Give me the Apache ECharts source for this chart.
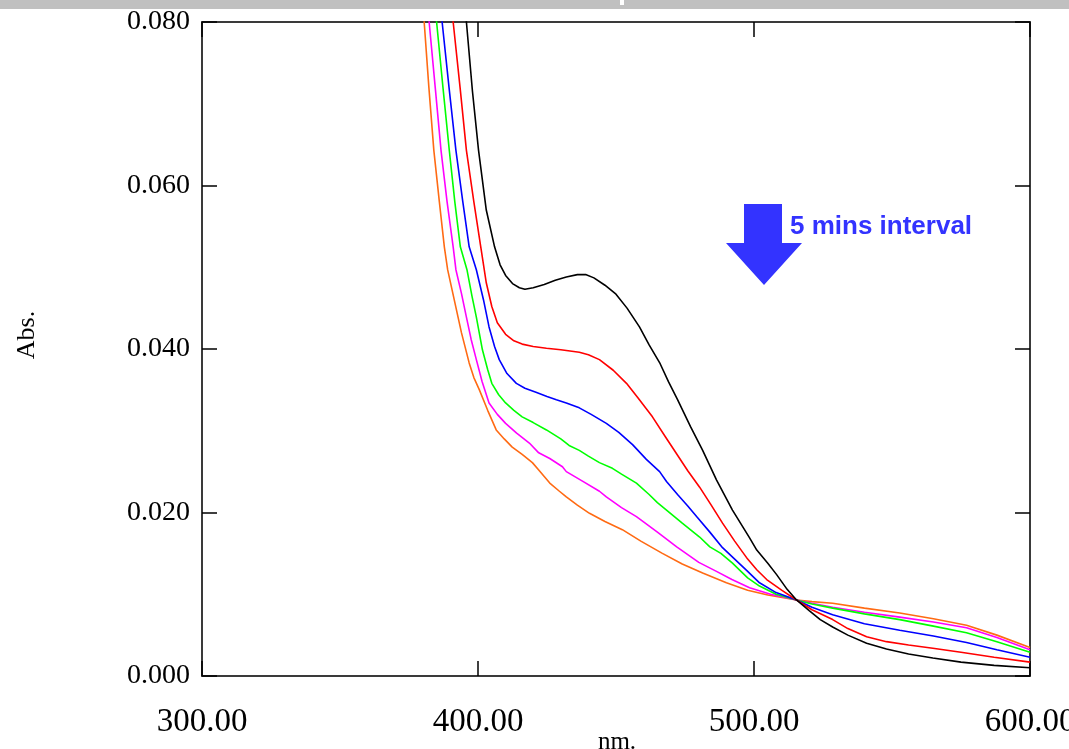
<!DOCTYPE html>
<html>
<head>
<meta charset="utf-8">
<script src="https://cdn.jsdelivr.net/npm/echarts@6/dist/echarts.min.js"></script>
<style>html,body{margin:0;padding:0;background:#fff;overflow:hidden}#c{width:1069px;height:749px}</style>
</head>
<body>
<div id="c"></div>
<script>
const xTicks = [300, 400, 500, 600];
const yTicks = [0, 0.02, 0.04, 0.06, 0.08];
const seriesNames = ['t0', 't5', 't10', 't15', 't20', 't25'];
const annotation = '5 mins interval';
const xName = 'nm.';
const yName = 'Abs.';

const black = [[394,0.0865],[395.8,0.080],[398,0.0715],[400.2,0.0643],[403,0.057],[406,0.0525],[408,0.0503],[410,0.0490],[412.5,0.0480],[415,0.0475],[417,0.0473],[420,0.0475],[424,0.0479],[428,0.0484],[432,0.0488],[436,0.0491],[439,0.0491],[442,0.0487],[446,0.0478],[450,0.0467],[454,0.0450],[458.5,0.0427],[462,0.0405],[466,0.0382],[469,0.0360],[472.3,0.0338],[477,0.0305],[481.4,0.0276],[486.4,0.0240],[492.2,0.0203],[498.4,0.0169],[501,0.0154],[505,0.0138],[508.2,0.0124],[512,0.0106],[515.4,0.0093],[520,0.0080],[524,0.0069],[528.5,0.0060],[534,0.0050],[540.8,0.0040],[548,0.0033],[556,0.0027],[564.8,0.0022],[575,0.0017],[587,0.0013],[600,0.0010]];
const red = [[389,0.0875],[391,0.080],[393.5,0.072],[395.8,0.0643],[398.5,0.058],[401,0.0525],[403,0.0481],[405,0.0452],[407,0.0432],[410,0.0418],[413,0.0410],[416,0.0406],[420,0.0403],[424.8,0.0401],[430,0.0399],[436.7,0.0396],[440,0.0393],[444,0.0387],[449,0.0374],[453.8,0.0358],[458,0.0340],[463.2,0.0317],[468,0.0292],[472.3,0.0270],[476,0.0251],[480.3,0.0231],[484.5,0.0209],[488.6,0.0187],[493,0.0165],[497.7,0.0143],[501,0.0130],[504.6,0.0118],[510,0.0105],[515.4,0.0093],[521,0.0081],[528.5,0.0069],[534,0.0058],[540.8,0.0048],[548,0.0042],[556,0.0038],[564.8,0.0034],[575,0.0029],[587,0.0023],[600,0.0017]];
const blue = [[385,0.0875],[387,0.080],[389.5,0.072],[392,0.0643],[394.5,0.058],[396.8,0.0525],[399.4,0.0497],[402,0.046],[404,0.0427],[406,0.0403],[407.7,0.0387],[410.5,0.0370],[413.9,0.0358],[417,0.0352],[421,0.0347],[425,0.0342],[428.4,0.0338],[432,0.0334],[436.7,0.0328],[441,0.0320],[446.5,0.0309],[451,0.0298],[456,0.0283],[461,0.0265],[465.8,0.0250],[468.3,0.0238],[472.3,0.0222],[476,0.0208],[479.2,0.0195],[484,0.0176],[488.6,0.0157],[493,0.0143],[497.7,0.0128],[502,0.0114],[508,0.0102],[515.4,0.0093],[521,0.0084],[528.5,0.0075],[540,0.0064],[552.8,0.0056],[565,0.0049],[577,0.0041],[588,0.0032],[600,0.0023]];
const green = [[383,0.0875],[385,0.080],[387.3,0.072],[389.6,0.0643],[391.6,0.058],[393.6,0.0525],[396,0.0497],[397.8,0.0465],[399.4,0.0439],[401.6,0.0399],[403.5,0.0375],[405,0.0358],[407.5,0.0344],[410,0.0334],[413,0.0325],[416,0.0317],[420,0.0310],[424.8,0.0301],[430,0.0290],[433,0.0282],[436.7,0.0276],[440,0.0269],[444,0.0261],[448.7,0.0254],[452,0.0247],[457.4,0.0236],[462,0.0222],[465,0.0212],[468.3,0.0203],[474,0.0187],[480.3,0.0170],[484,0.0158],[488,0.0150],[492.2,0.0138],[497.7,0.0120],[502,0.0110],[508,0.0100],[515.4,0.0093],[521,0.0088],[528.5,0.0083],[540,0.0076],[552.8,0.0069],[565,0.0061],[577,0.0053],[588,0.0042],[600,0.0029]];
const magenta = [[380.5,0.0875],[382.3,0.080],[384.5,0.072],[386.6,0.0643],[388.8,0.058],[391,0.0525],[392,0.0497],[394,0.0468],[395.8,0.0439],[397.5,0.0412],[399.4,0.0387],[401.5,0.0360],[404,0.0334],[407,0.0320],[410,0.0309],[414,0.0297],[418.6,0.0285],[422,0.0273],[426,0.0266],[430.6,0.0256],[432,0.0250],[438,0.0238],[444,0.0226],[446.5,0.0219],[452,0.0206],[457.4,0.0195],[465,0.0176],[472,0.0158],[480,0.0139],[486.4,0.0128],[492,0.0118],[498.4,0.0108],[506,0.0100],[515.4,0.0093],[521,0.0089],[528.5,0.0084],[540,0.0078],[552.8,0.0072],[565,0.0066],[577,0.0059],[588,0.0047],[600,0.0032]];
const orange = [[379,0.0875],[380.5,0.080],[382.2,0.072],[384,0.0643],[386,0.058],[387.8,0.0525],[389,0.0497],[391.4,0.0460],[394,0.0420],[396.8,0.0383],[398.5,0.0365],[400.5,0.0350],[403.5,0.0325],[406.6,0.0301],[409.5,0.0290],[412.4,0.0280],[416,0.0271],[419.7,0.0261],[422,0.0252],[426,0.0236],[429.5,0.0226],[432,0.0219],[436,0.0209],[440.4,0.0199],[446,0.0189],[452.3,0.0179],[459,0.0165],[466.8,0.0150],[474,0.0137],[481.4,0.0126],[490,0.0114],[497.7,0.0105],[505,0.0099],[515.4,0.0093],[521,0.0091],[528.5,0.0089],[540,0.0083],[552.8,0.0077],[565,0.0070],[577,0.0062],[588,0.0050],[600,0.0035]];

const allData = [black, red, blue, green, magenta, orange];
const colors = ['#000000', '#ff0000', '#0000ff', '#00ff00', '#ff00ff', '#ff6a13'];

const chart = echarts.init(document.getElementById('c'), null, {renderer: 'canvas'});
const serif = '"Liberation Serif", "Times New Roman", serif';
const frameColor = '#3a3a3a';

const common = {
  axisLine: {show: true, onZero: false, lineStyle: {color: frameColor, width: 2}},
  axisTick: {show: true, inside: true, length: 15, lineStyle: {color: '#000', width: 1.5}},
  splitLine: {show: false}
};

const option = {
  animation: false,
  backgroundColor: '#ffffff',
  grid: {left: 202, top: 22, right: 39, bottom: 73, containLabel: false, outerBoundsMode: 'none'},
  xAxis: [
    Object.assign({}, common, {
      type: 'value', position: 'bottom', min: xTicks[0], max: xTicks[xTicks.length - 1], interval: 100,
      axisLabel: {show: true, margin: 30, color: '#000', fontFamily: serif, fontSize: 33,
        formatter: v => v.toFixed(2)}
    }),
    Object.assign({}, common, {
      type: 'value', position: 'top', min: xTicks[0], max: xTicks[xTicks.length - 1], interval: 100,
      axisLabel: {show: false}
    })
  ],
  yAxis: [
    Object.assign({}, common, {
      type: 'value', position: 'left', min: yTicks[0], max: yTicks[yTicks.length - 1], interval: 0.02,
      axisLabel: {show: true, margin: 12, color: '#000', fontFamily: serif, fontSize: 28,
        formatter: v => v.toFixed(3)}
    }),
    Object.assign({}, common, {
      type: 'value', position: 'right', min: yTicks[0], max: yTicks[yTicks.length - 1], interval: 0.02,
      axisLabel: {show: false}
    })
  ],
  series: allData.map((d, i) => ({
    name: seriesNames[i],
    type: 'line',
    data: d,
    showSymbol: false,
    clip: true,
    smooth: false,
    z: 10 - i,
    lineStyle: {color: colors[i], width: 1.6},
    itemStyle: {color: colors[i]}
  })).reverse(),
  graphic: [
    {type: 'rect', shape: {x: 0, y: 0, width: 1069, height: 9}, style: {fill: '#c0c0c0'}, z: 100},
    {type: 'rect', shape: {x: 620, y: 0, width: 4, height: 5}, style: {fill: '#ffffff'}, z: 101},
    {type: 'text', x: 27, y: 335, rotation: Math.PI / 2,
      style: {text: yName, fill: '#000', font: '26px ' + serif, align: 'center', verticalAlign: 'middle'}, z: 100},
    {type: 'text', x: 617, y: 742,
      style: {text: xName, fill: '#000', font: '25px ' + serif, align: 'center', verticalAlign: 'middle'}, z: 100},
    {type: 'polygon', shape: {points: [[744,204],[782,204],[782,243],[802,243],[764,285],[726,243],[744,243]]},
      style: {fill: '#3333ff'}, z: 100},
    {type: 'text', x: 790, y: 227,
      style: {text: annotation, fill: '#3333ff', font: 'bold 26px "Liberation Sans", Arial, sans-serif', verticalAlign: 'middle'}, z: 100}
  ]
};
chart.setOption(option);
</script>
</body>
</html>
